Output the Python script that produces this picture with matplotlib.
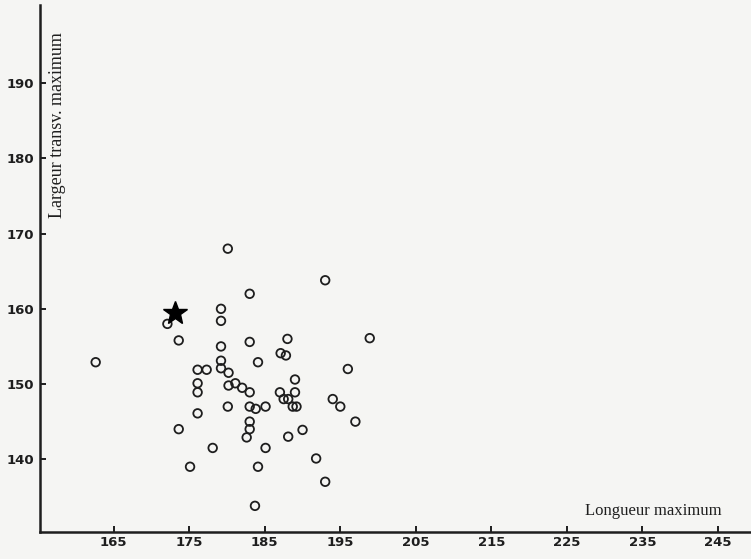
import numpy as np
import matplotlib.pyplot as plt

# Longueur / largeur maximum des cranes (cercles) et individu repere (etoile)
longueur = [162.6, 172.1, 173.6, 180.1, 193.0, 183.0, 179.2, 179.2, 179.2, 183.0,
            188.0, 187.1, 187.8, 184.1, 179.2, 176.1, 177.3, 179.2, 180.2, 189.0,
            176.1, 176.1, 180.2, 181.1, 182.0, 183.0, 187.0, 189.0, 187.5, 188.1,
            188.7, 189.2, 180.1, 183.0, 183.8, 185.1, 176.1, 183.0, 183.0, 182.6,
            173.6, 188.1, 190.0, 178.1, 185.1, 175.1, 184.1, 191.8, 193.0, 183.7,
            198.9, 196.0, 194.0, 195.0, 197.0]
largeur = [152.9, 158.0, 155.8, 168.0, 163.8, 162.0, 160.0, 158.4, 155.0, 155.6,
           156.0, 154.1, 153.8, 152.9, 153.1, 151.9, 151.9, 152.1, 151.5, 150.6,
           150.1, 148.9, 149.8, 150.1, 149.5, 148.9, 148.9, 148.9, 148.0, 148.0,
           147.0, 147.0, 147.0, 147.0, 146.7, 147.0, 146.1, 145.0, 144.0, 142.9,
           144.0, 143.0, 143.9, 141.5, 141.5, 139.0, 139.0, 140.1, 137.0, 133.8,
           156.1, 152.0, 148.0, 147.0, 145.0]

etoile_x = [173.1]
etoile_y = [159.4]

xticks = [165, 175, 185, 195, 205, 215, 225, 235, 245]
yticks = [140, 150, 160, 170, 180, 190]

bg = '#f5f5f3'
fig = plt.figure(figsize=(7.51, 5.59), dpi=100, facecolor=bg)
ax = fig.add_axes([0.053, 0.048, 0.947, 0.943])
ax.set_facecolor(bg)

ax.scatter(longueur, largeur, s=38, facecolors='none', edgecolors='#1e1e1e',
           linewidths=1.3, zorder=3)
ax.plot(etoile_x, etoile_y, marker='*', markersize=18, color='black',
        linestyle='none', zorder=4)

ax.set_xlim(155.2, 249.4)
ax.set_ylim(130.3, 200.4)

ax.set_xticks(xticks)
ax.set_yticks(yticks)
ax.tick_params(direction='in', length=4, width=1.4, colors='#1e1e1e')
for lab in ax.get_xticklabels() + ax.get_yticklabels():
    lab.set_fontfamily('DejaVu Sans')
    lab.set_fontweight('bold')
    lab.set_fontsize(9.5)
    lab.set_color('#1e1e1e')
ax.tick_params(axis='x', pad=3)
ax.tick_params(axis='y', pad=4)

for side in ['top', 'right']:
    ax.spines[side].set_visible(False)
for side in ['left', 'bottom']:
    ax.spines[side].set_linewidth(1.8)
    ax.spines[side].set_color('#1e1e1e')

# titres des axes, a l'interieur du cadre
ax.text(0.013, 0.949, 'Largeur transv. maximum', transform=ax.transAxes,
        rotation=90, ha='left', va='top', family='Liberation Serif',
        fontsize=13, color='#1e1e1e')
ax.text(0.958, 0.040, 'Longueur maximum', transform=ax.transAxes,
        ha='right', va='center', family='Liberation Serif',
        fontsize=12, color='#1e1e1e')

fig.savefig('out.png', dpi=100, facecolor=bg)
